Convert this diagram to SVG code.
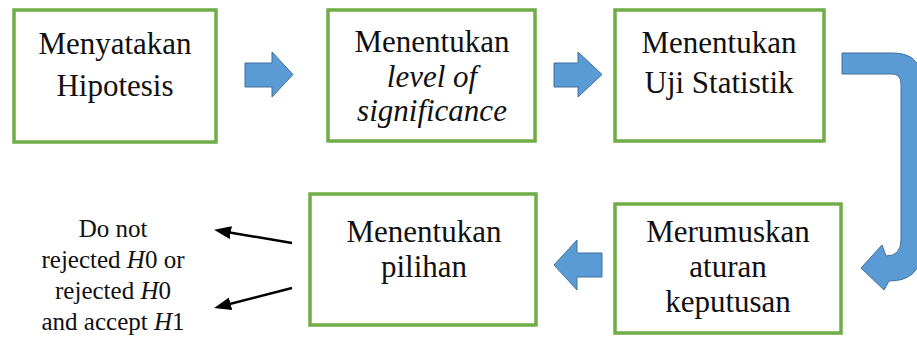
<svg xmlns="http://www.w3.org/2000/svg" width="917" height="338" viewBox="0 0 917 338">
<style>
.box{fill:#fff;stroke:#70AD47;stroke-width:3.5}
.t{font-size:31px;fill:#111;text-anchor:middle}
.s{font-size:25px;fill:#111;text-anchor:middle}
.blk{fill:#5B9BD5;stroke:#41719C;stroke-width:1}
.ln{stroke:#000;stroke-width:2.5;fill:none;marker-end:url(#ah)}
</style>
<defs>
<marker id="ah" markerUnits="userSpaceOnUse" markerWidth="18" markerHeight="14" refX="13" refY="6.5" orient="auto">
<path d="M0,0 L17,6.5 L0,13 z" fill="#000"/>
</marker>
</defs>
<rect width="917" height="338" fill="#fff"/>
<g font-family="Liberation Serif, Tinos, Times New Roman, Noto Serif, DejaVu Serif, serif">
<g id="n1">
<rect class="box" x="14" y="10" width="202" height="132"/>
<text class="t" x="115" y="54">Menyatakan</text>
<text class="t" x="115" y="96">Hipotesis</text>
</g>
<g id="n2">
<rect class="box" x="328" y="10" width="207" height="131"/>
<text class="t" x="432" y="52">Menentukan</text>
<text class="t" x="432" y="87" font-style="italic">level of</text>
<text class="t" x="432" y="121" font-style="italic">significance</text>
</g>
<g id="n3">
<rect class="box" x="615" y="10" width="209" height="131"/>
<text class="t" x="719" y="53">Menentukan</text>
<text class="t" x="719" y="93">Uji Statistik</text>
</g>
<g id="n4">
<rect class="box" x="615" y="204" width="226" height="129"/>
<text class="t" x="728" y="242">Merumuskan</text>
<text class="t" x="728" y="277">aturan</text>
<text class="t" x="728" y="312">keputusan</text>
</g>
<g id="n5">
<rect class="box" x="310" y="194" width="226" height="131"/>
<text class="t" x="424" y="242">Menentukan</text>
<text class="t" x="424" y="277">pilihan</text>
</g>
<g id="out">
<text class="s" x="113" y="237">Do not</text>
<text class="s" x="113" y="268">rejected <tspan font-style="italic">H</tspan>0 or</text>
<text class="s" x="113" y="299">rejected <tspan font-style="italic">H</tspan>0</text>
<text class="s" x="113" y="330">and accept <tspan font-style="italic">H</tspan>1</text>
</g>
</g>
<g id="connectors">
<path class="blk" d="M245 63 L272 63 L272 52 L293 74.5 L272 97 L272 87 L245 87 Z"/>
<path class="blk" d="M554 63 L578 63 L578 52 L602 74.5 L578 97 L578 87 L554 87 Z"/>
<path class="blk" d="M602 253 L577 253 L577 240 L554 265 L577 290 L577 277 L602 277 Z"/>
<path class="blk" d="M842 53 L893 53 Q921 53 921 80 L921 250 Q921 281 889 281 L884 290 L861 268 L882 245 L886 256 Q901 256 901 240 L901 84 Q901 74 892 74 L842 74 Z"/>
<line class="ln" x1="292" y1="243" x2="218" y2="230.5"/>
<line class="ln" x1="292" y1="288" x2="218" y2="307"/>
</g>
</svg>
